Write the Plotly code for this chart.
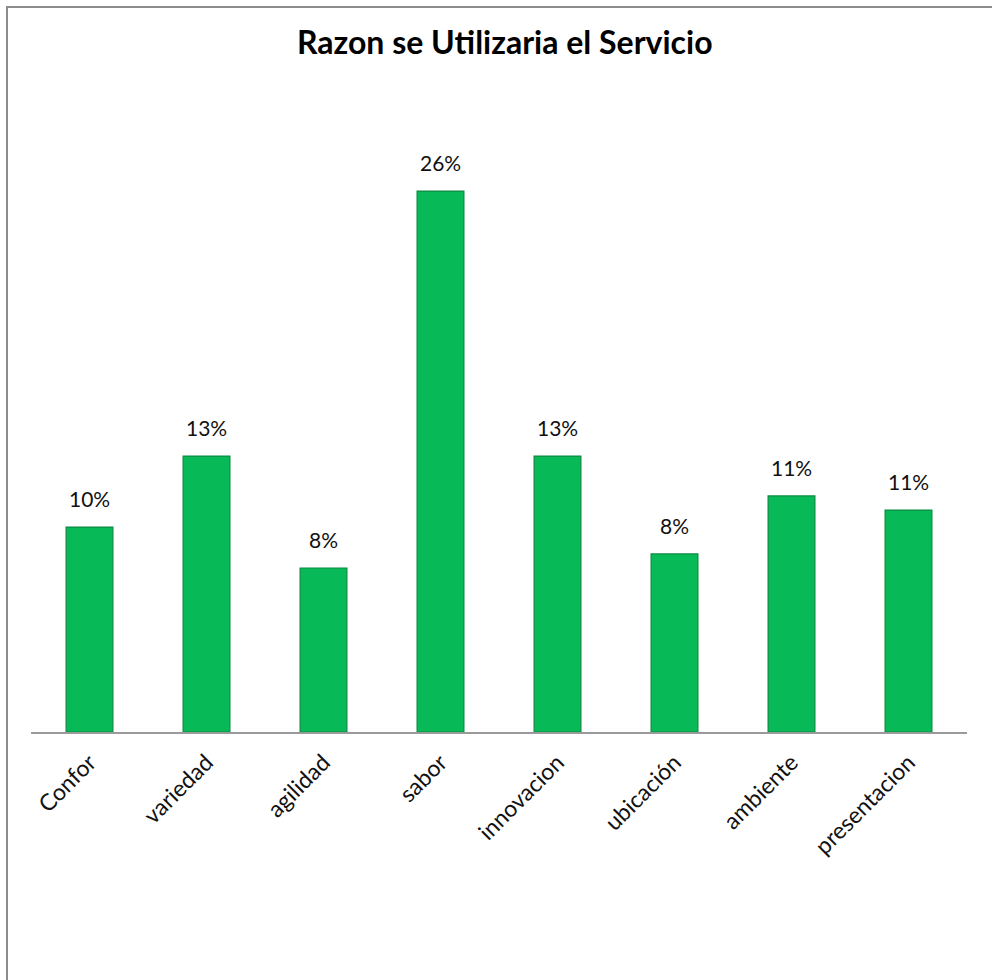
import plotly.graph_objects as go

# Survey results: reasons the service would be used
categorias = ["Confor", "variedad", "agilidad", "sabor", "innovacion",
              "ubicación", "ambiente", "presentacion"]
porcentajes = [0.0976, 0.1314, 0.0781, 0.2576, 0.1314, 0.0848, 0.1124, 0.1057]

W, H = 992, 980
L, R, T, B = 31, 25, 108, 248
plot_w = W - L - R
plot_h = H - T - B

FONT = "Lato, 'Open Sans', sans-serif"

def px_x(p):
    return (p - L) / plot_w

def px_y(p):
    return (H - B - p) / plot_h

fig = go.Figure()
fig.add_trace(go.Bar(
    x=categorias,
    y=porcentajes,
    width=0.4,
    marker=dict(color="#07BA57", line=dict(color="#0B8A42", width=1.2)),
    hoverinfo="skip",
))

# Percentage labels above each bar
for cat, val in zip(categorias, porcentajes):
    fig.add_annotation(
        x=cat, y=val, text=f"{val:.0%}", showarrow=False,
        yanchor="bottom", yshift=14,
        font=dict(family=FONT, size=21, color="#111111"),
    )

# Outer chart frame
fig.add_shape(type="rect", xref="paper", yref="paper",
              x0=px_x(7), x1=px_x(W + 5), y0=px_y(H + 5), y1=px_y(7),
              line=dict(color="#8C8C8C", width=2), fillcolor="rgba(0,0,0,0)",
              layer="below")

fig.add_annotation(
    text="<b>Razon se Utilizaria el Servicio</b>",
    xref="paper", yref="paper", x=px_x(505), y=px_y(42),
    xanchor="center", yanchor="middle", showarrow=False,
    font=dict(family=FONT, size=32, color="#000000"),
)

fig.update_layout(
    width=W, height=H,
    margin=dict(l=L, r=R, t=T, b=B),
    paper_bgcolor="white", plot_bgcolor="white",
    showlegend=False,
    xaxis=dict(
        tickangle=-45,
        tickfont=dict(family=FONT, size=23, color="#111111"),
        showline=True, linecolor="#9A9A9A", linewidth=2,
        ticks="", showgrid=False, zeroline=False,
        ticklabelstandoff=6,
    ),
    yaxis=dict(range=[0, plot_h / 2100], visible=False,
               showgrid=False, zeroline=False),
)

fig.write_html("out.html")
